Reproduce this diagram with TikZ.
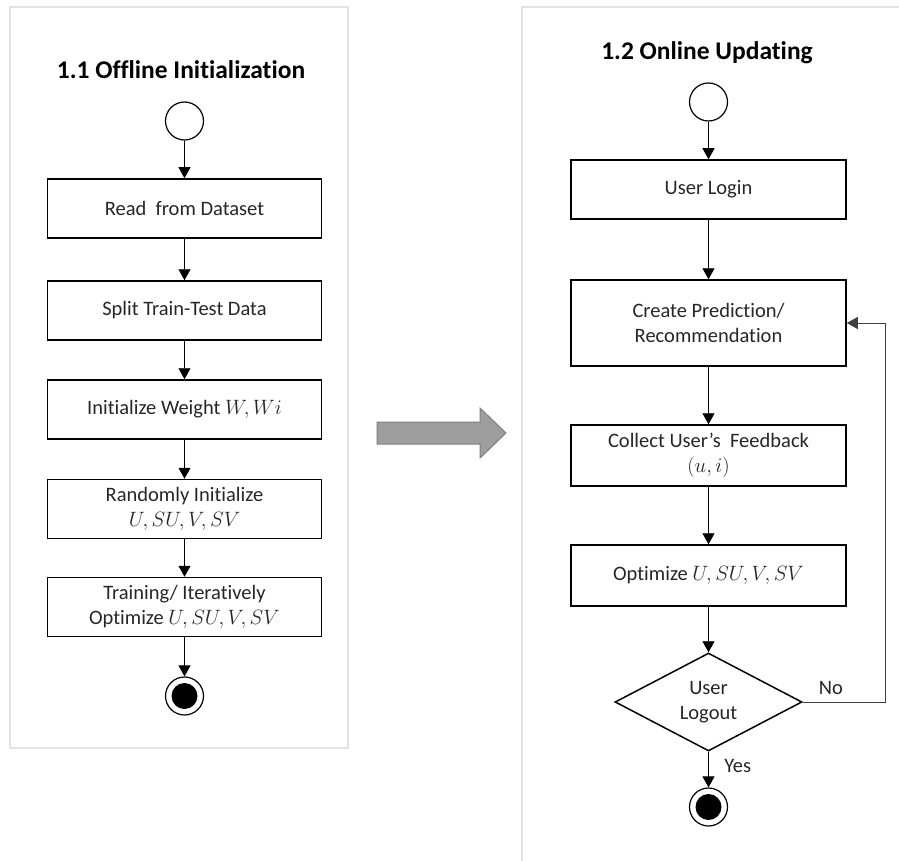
\documentclass[tikz,border=0pt]{standalone}
\usepackage{fontspec}
\setmainfont{Carlito}[Ligatures=NoCommon]
\usetikzlibrary{arrows.meta,shapes.geometric}
\newcommand{\mvar}[1]{{\fontsize{22}{25}\selectfont$#1$}}

\begin{document}
\begin{tikzpicture}[x=1pt,y=-1pt,
  every node/.style={font=\fontsize{20.5}{25}\selectfont,text=black!85},
  title/.style={font=\bfseries\fontsize{25.5}{30}\selectfont,text=black},
  box/.style={draw,line width=1.5pt,minimum width=274pt,minimum height=59pt,align=center,inner sep=2pt},
  startdot/.style={draw,circle,line width=1.2pt,minimum size=38pt,inner sep=0pt},
  enddot/.style={startdot,path picture={\fill (path picture bounding box.center) circle (13pt);}},
  decision/.style={draw,diamond,line width=1.5pt,minimum width=187pt,minimum height=98pt,aspect=1.9,align=center,inner sep=0pt},
  flow/.style={-{Triangle[length=11pt,width=12pt]},line width=0.9pt},
  panel/.style={draw=black!11,line width=2.5pt}]
\useasboundingbox (0,0) rectangle (899,861);

% panels
\draw[panel] (10,7) rectangle (348,748);
\begin{scope}
  \clip (0,0) rectangle (899,861);
  \draw[panel] (522,7) rectangle (930,890);
\end{scope}

% offline part
\node[title] (t1) at (181,70) {1.1 Offline Initialization};
\node[startdot] (s1) at (184.5,121) {};
\node[box] (read) at (184.5,208.5) {Read\ \ from Dataset};
\node[box] (split) at (184.5,310.5) {Split Train-Test Data};
\node[box] (wgt) at (184.5,409.5) {Initialize Weight \mvar{W, Wi}};
\node[box] (rand) at (184.5,509) {Randomly Initialize\\\mvar{U, SU, V, SV}};
\node[box] (train) at (184.5,607) {Training/ Iteratively\\Optimize \mvar{U, SU, V, SV}};
\node[enddot] (e1) at (184.5,696) {};
\foreach \a/\b in {s1/read,read/split,split/wgt,wgt/rand,rand/train,train/e1}
  \draw[flow] (\a) -- (\b);

% big arrow between the parts
\draw[fill=black!38,draw=black!50,line width=1pt] (377,422) -- (480,422) -- (480,408) -- (506,433)
  -- (480,458) -- (480,444) -- (377,444) -- cycle;

% online part
\node[title] (t2) at (707,53) {1.2 Online Updating};
\node[startdot] (s2) at (708.5,102) {};
\node[box,minimum width=275pt] (login) at (708.5,189.5) {User Login};
\node[box,minimum width=275pt,minimum height=86pt] (pred) at (708.5,323) {Create Prediction/\\Recommendation};
\node[box,minimum width=275pt,minimum height=61pt] (fb) at (708.5,455.5) {Collect User's\ \ Feedback\\\mvar{(u, i)}};
\node[box,minimum width=275pt,minimum height=61pt] (opt) at (708.5,575.5) {Optimize \mvar{U, SU, V, SV}};
\node[decision] (out) at (708.5,702) {User\\Logout};
\node[enddot] (e2) at (708.5,807) {};
\foreach \a/\b in {s2/login,login/pred,pred/fb,fb/opt,opt/out}
  \draw[flow] (\a) -- (\b);
\draw[flow] (out) -- node[right=12pt,pos=0.4] {Yes} (e2);
\draw[flow,line width=0.8pt,draw=black!75] (out.east) -- node[above=4pt,pos=0.34] {No} ++(83,0) |- (pred.east);
\end{tikzpicture}
\end{document}
